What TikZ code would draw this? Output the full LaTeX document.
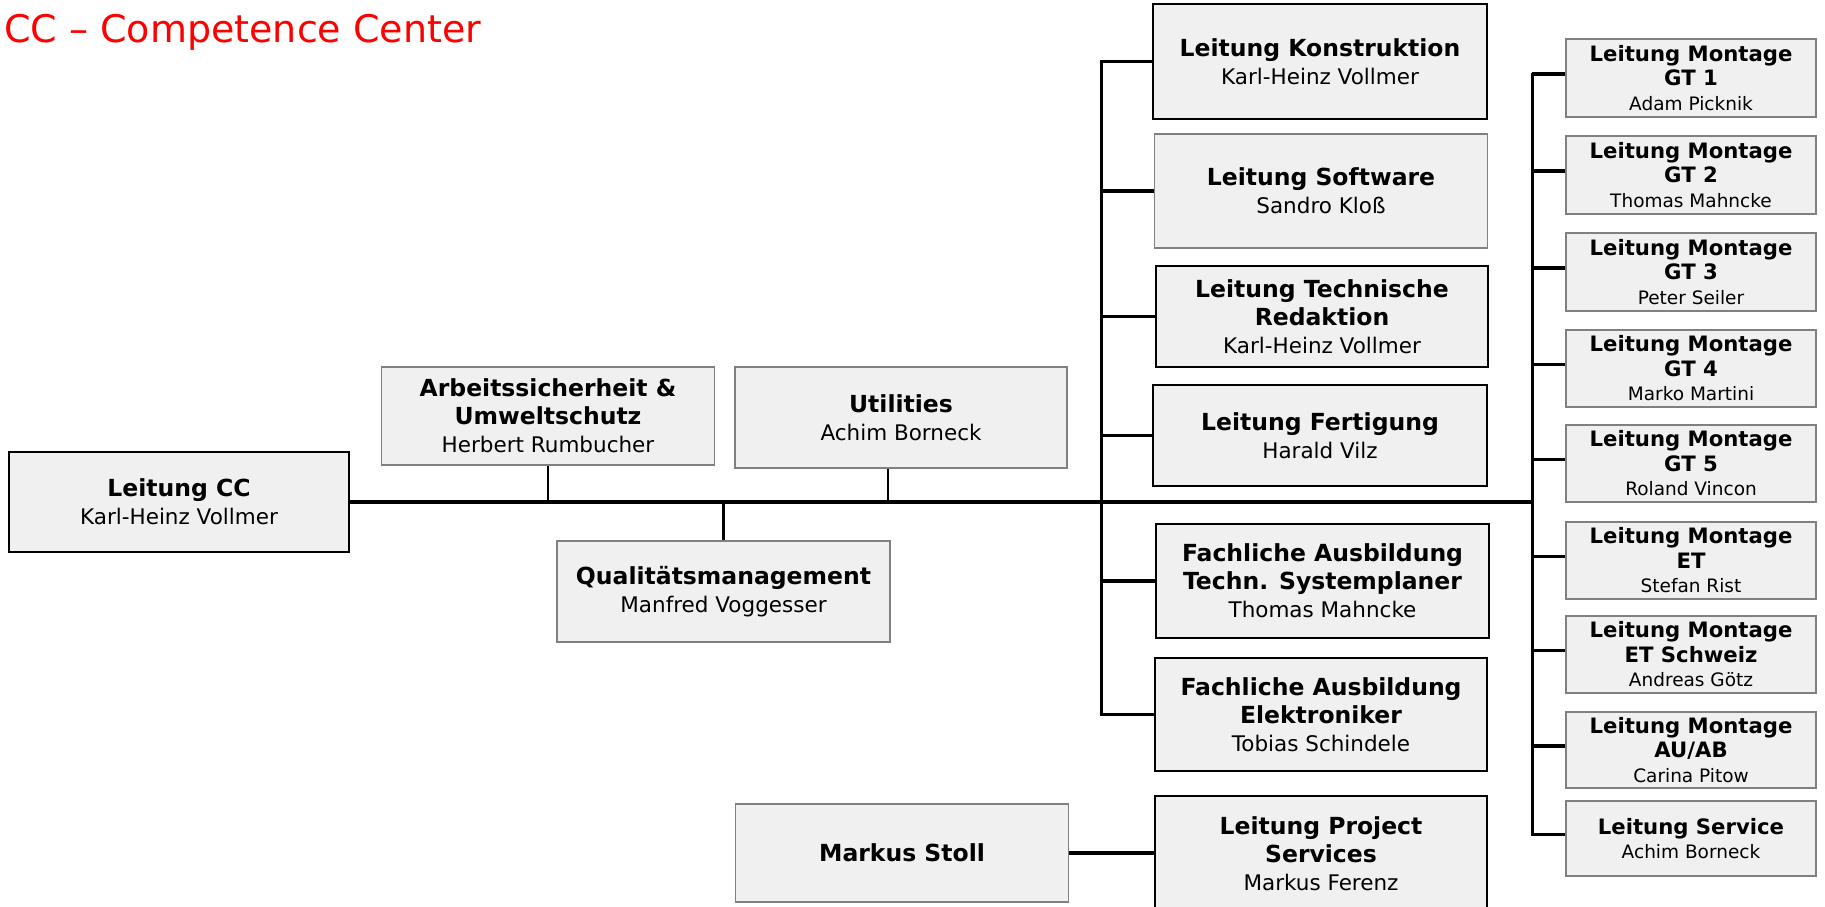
\documentclass[tikz,border=0pt]{standalone}
\usepackage{fontspec}
\setmainfont{DejaVu Sans}
\definecolor{boxfill}{HTML}{F0F0F0}
\definecolor{softline}{HTML}{808080}
\definecolor{titlered}{HTML}{FF0000}
\newcommand{\ttl}[1]{{\fontsize{23.5}{28}\selectfont\bfseries #1}}
\newcommand{\mtl}[1]{{\fontsize{21.2}{24.5}\selectfont\bfseries #1}}
\begin{document}
\begin{tikzpicture}[x=1pt,y=-1pt,
  box/.style={rectangle, fill=boxfill, inner sep=0pt, align=center,
    font=\fontsize{21.5}{28}\selectfont},
  strongbox/.style={box, draw=black, line width=2.5pt},
  softbox/.style={box, draw=softline, line width=1.5pt},
  mbox/.style={softbox, minimum width=250pt, minimum height=77pt,
    font=\fontsize{18.5}{24.5}\selectfont},
  conn/.style={draw=black, line width=3.5pt},
  thinconn/.style={draw=black, line width=2.5pt}
]
\useasboundingbox (0,0) rectangle (1825,906);
\fill[white] (0,0) rectangle (1825,906);

\node[anchor=base west, text=titlered, font=\fontsize{38}{40}\selectfont, inner sep=0pt] (title) at (4,42) {CC – Competence Center};

% left part
\node[strongbox, minimum width=340pt, minimum height=100pt] (cc) at (179,502) {\ttl{Leitung CC}\\Karl-Heinz Vollmer};
\node[softbox, minimum width=333pt, minimum height=98pt] (arb) at (548,416) {\ttl{Arbeitssicherheit \&}\\\ttl{Umweltschutz}\\Herbert Rumbucher};
\node[softbox, minimum width=332pt, minimum height=101pt] (util) at (901,417.5) {\ttl{Utilities}\\Achim Borneck};
\node[softbox, minimum width=333pt, minimum height=101pt] (qm) at (723.5,591.5) {\ttl{Qualitätsmanagement}\\Manfred Voggesser};

% middle column
\node[strongbox, minimum width=334pt, minimum height=115pt] (kon) at (1320,61.5) {\ttl{Leitung Konstruktion}\\Karl-Heinz Vollmer};
\node[softbox, minimum width=333pt, minimum height=114pt] (sw) at (1321,191) {\ttl{Leitung Software}\\Sandro Kloß};
\node[strongbox, minimum width=332pt, minimum height=101pt] (tr) at (1322,316.5) {\ttl{Leitung Technische}\\\ttl{Redaktion}\\Karl-Heinz Vollmer};
\node[strongbox, minimum width=334pt, minimum height=101pt] (fe) at (1320,435.5) {\ttl{Leitung Fertigung}\\Harald Vilz};
\node[strongbox, minimum width=333pt, minimum height=114pt] (fa1) at (1322.5,581) {\ttl{Fachliche Ausbildung}\\\ttl{Techn. Systemplaner}\\Thomas Mahncke};
\node[strongbox, minimum width=332pt, minimum height=113pt] (fa2) at (1321,714.5) {\ttl{Fachliche Ausbildung}\\\ttl{Elektroniker}\\Tobias Schindele};
\node[strongbox, minimum width=332pt, minimum height=116pt] (ps) at (1321,854) {\ttl{Leitung Project}\\\ttl{Services}\\Markus Ferenz};
\node[softbox, minimum width=333pt, minimum height=98pt] (ms) at (902,853) {\ttl{Markus Stoll}};

% right column
\node[mbox, minimum height=78pt] (gt1) at (1691,78) {\mtl{Leitung Montage}\\\mtl{GT 1}\\Adam Picknik};
\node[mbox, minimum height=78pt] (gt2) at (1691,175) {\mtl{Leitung Montage}\\\mtl{GT 2}\\Thomas Mahncke};
\node[mbox, minimum height=78pt] (gt3) at (1691,272) {\mtl{Leitung Montage}\\\mtl{GT 3}\\Peter Seiler};
\node[mbox] (gt4) at (1691,368.5) {\mtl{Leitung Montage}\\\mtl{GT 4}\\Marko Martini};
\node[mbox] (gt5) at (1691,463.5) {\mtl{Leitung Montage}\\\mtl{GT 5}\\Roland Vincon};
\node[mbox] (et) at (1691,560.5) {\mtl{Leitung Montage}\\\mtl{ET}\\Stefan Rist};
\node[mbox] (ets) at (1691,654.5) {\mtl{Leitung Montage}\\\mtl{ET Schweiz}\\Andreas Götz};
\node[mbox, minimum height=76pt] (auab) at (1691,750) {\mtl{Leitung Montage}\\\mtl{AU/AB}\\Carina Pitow};
\node[mbox, minimum height=75pt] (srv) at (1691,838.5) {\mtl{Leitung Service}\\Achim Borneck};

% trunk coordinates
\coordinate (mx) at (1101.5,0);
\coordinate (rx) at (1532,0);

% main line
\draw[conn] (cc.east) -- (cc.east -| rx);
\draw[thinconn] (arb.south) -- (arb.south |- cc.east);
\draw[thinconn] ([xshift=-13pt]util.south) -- ([xshift=-13pt]util.south |- cc.east);
\draw[thinconn] (qm.north) -- (qm.north |- cc.east);

% middle trunk
\draw[conn, line width=3pt, line cap=rect] (kon.west -| mx) -- (fa2.west -| mx);
\foreach \n in {kon,sw,tr,fe,fa1,fa2}{
  \draw[conn] (\n.west) -- (\n.west -| mx);
}

% right trunk
\draw[conn, line width=3pt, line cap=rect] ([yshift=4pt]gt1.west -| rx) -- ([yshift=4pt]srv.west -| rx);
\foreach \n in {gt1,gt2,gt3,gt4,gt5,et,ets,auab,srv}{
  \draw[conn] ([yshift=4pt]\n.west) -- ([yshift=4pt]\n.west -| rx);
}

% project services
\draw[conn] (ms.east) -- (ms.east -| ps.west);
\end{tikzpicture}
\end{document}
